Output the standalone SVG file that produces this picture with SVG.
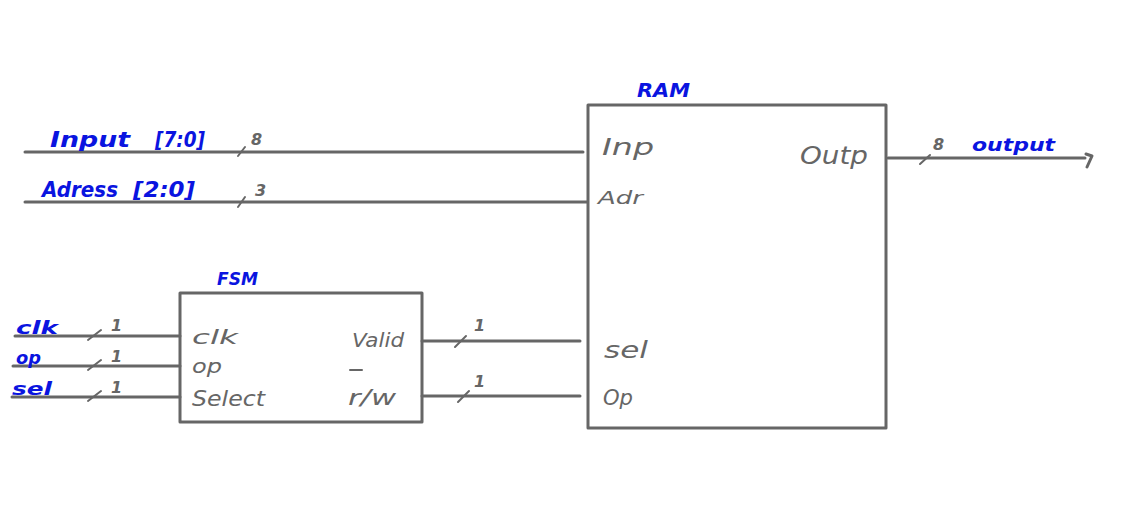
<svg xmlns="http://www.w3.org/2000/svg" width="1133" height="526" viewBox="0 0 1133 526">
<style>
.w{stroke:#666;stroke-width:3;fill:none;stroke-linecap:round;stroke-linejoin:round}
.t{stroke:#666;stroke-width:2;fill:none;stroke-linecap:round}
.g{fill:#666;font-family:"DejaVu Sans",sans-serif;font-style:italic}
.b{fill:#0a14e0;font-family:"DejaVu Sans",sans-serif;font-style:italic;font-weight:bold}
.n{fill:#666;font-family:"DejaVu Sans",sans-serif;font-style:italic;font-weight:bold;font-size:16px}
</style>
<rect width="1133" height="526" fill="#fff"/>
<g id="connectors">
<line class="w" x1="25" y1="152" x2="583" y2="152"/>
<line class="t" x1="238" y1="156" x2="245" y2="147"/>
<text class="n" x="251" y="145">8</text>
<text class="b" x="50" y="147" font-size="21" textLength="80" lengthAdjust="spacingAndGlyphs">Input</text>
<text class="b" x="155" y="147" font-size="21" textLength="50" lengthAdjust="spacingAndGlyphs">[7:0]</text>
<line class="w" x1="25" y1="202" x2="587" y2="202"/>
<line class="t" x1="238" y1="207" x2="245" y2="197"/>
<text class="n" x="255" y="196">3</text>
<text class="b" x="42" y="197" font-size="21" textLength="76" lengthAdjust="spacingAndGlyphs">Adress</text>
<text class="b" x="133" y="197" font-size="21" textLength="62" lengthAdjust="spacingAndGlyphs">[2:0]</text>
<line class="w" x1="888" y1="158" x2="1085" y2="158"/>
<path class="w" d="M1086 154 L1092 156 L1087 167"/>
<line class="t" x1="920" y1="164" x2="930" y2="155"/>
<text class="n" x="933" y="150">8</text>
<text class="b" x="972" y="151" font-size="18" textLength="83" lengthAdjust="spacingAndGlyphs">output</text>
<line class="w" x1="15" y1="336" x2="180" y2="336"/>
<line class="t" x1="88" y1="340" x2="101" y2="330"/>
<text class="n" x="111" y="331">1</text>
<text class="b" x="16" y="334" font-size="18" textLength="42" lengthAdjust="spacingAndGlyphs">clk</text>
<line class="w" x1="13" y1="366" x2="180" y2="366"/>
<line class="t" x1="88" y1="370" x2="101" y2="360"/>
<text class="n" x="111" y="362">1</text>
<text class="b" x="16" y="364" font-size="18" textLength="25" lengthAdjust="spacingAndGlyphs">op</text>
<line class="w" x1="12" y1="397" x2="180" y2="397"/>
<line class="t" x1="88" y1="401" x2="101" y2="391"/>
<text class="n" x="111" y="393">1</text>
<text class="b" x="12" y="395" font-size="18" textLength="40" lengthAdjust="spacingAndGlyphs">sel</text>
<line class="w" x1="422" y1="341" x2="580" y2="341"/>
<line class="t" x1="455" y1="347" x2="466" y2="336"/>
<text class="n" x="474" y="331">1</text>
<line class="w" x1="422" y1="396" x2="580" y2="396"/>
<line class="t" x1="458" y1="402" x2="469" y2="391"/>
<text class="n" x="474" y="387">1</text>
</g>
<g id="ram">
<rect class="w" x="588" y="105" width="298" height="323"/>
<text class="b" x="637" y="97" font-size="20" textLength="53" lengthAdjust="spacingAndGlyphs">RAM</text>
<text class="g" x="602" y="155" font-size="23" textLength="52" lengthAdjust="spacingAndGlyphs">Inp</text>
<text class="g" x="800" y="164" font-size="24" textLength="68" lengthAdjust="spacingAndGlyphs">Outp</text>
<text class="g" x="598" y="204" font-size="18" textLength="45" lengthAdjust="spacingAndGlyphs">Adr</text>
<text class="g" x="604" y="358" font-size="23" textLength="44" lengthAdjust="spacingAndGlyphs">sel</text>
<text class="g" x="603" y="405" font-size="21" textLength="30" lengthAdjust="spacingAndGlyphs">Op</text>
</g>
<g id="fsm">
<rect class="w" x="180" y="293" width="242" height="129"/>
<text class="b" x="217" y="285" font-size="17" textLength="41" lengthAdjust="spacingAndGlyphs">FSM</text>
<text class="g" x="192" y="344" font-size="20" textLength="46" lengthAdjust="spacingAndGlyphs">clk</text>
<text class="g" x="192" y="373" font-size="20" textLength="30" lengthAdjust="spacingAndGlyphs">op</text>
<text class="g" x="192" y="406" font-size="21" textLength="73" lengthAdjust="spacingAndGlyphs">Select</text>
<text class="g" x="352" y="347" font-size="20" textLength="52" lengthAdjust="spacingAndGlyphs">Valid</text>
<line class="t" x1="350" y1="370" x2="362" y2="370"/>
<text class="g" x="348" y="405" font-size="22" textLength="48" lengthAdjust="spacingAndGlyphs">r/w</text>
</g>
</svg>
